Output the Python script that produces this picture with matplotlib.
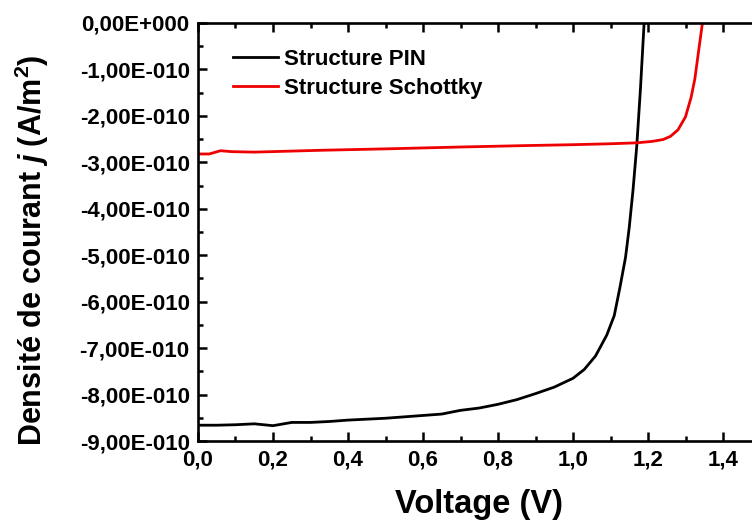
import numpy as np
import matplotlib.pyplot as plt
from matplotlib.ticker import FuncFormatter, MultipleLocator

plt.rcParams['font.family'] = ['Liberation Sans', 'DejaVu Sans']
plt.rcParams['font.weight'] = 'bold'
plt.rcParams['mathtext.fontset'] = 'custom'
plt.rcParams['mathtext.it'] = 'Liberation Sans:italic:bold'
plt.rcParams['mathtext.bf'] = 'Liberation Sans:bold'
plt.rcParams['mathtext.rm'] = 'Liberation Sans:bold'

# PIN structure, current density in units of 1e-10 A/m^2
v_pin = [0, 0.05, 0.1, 0.15, 0.2, 0.25, 0.3, 0.35, 0.4, 0.5, 0.6, 0.65, 0.7,
         0.75, 0.8, 0.85, 0.9, 0.95, 1.0, 1.03, 1.06, 1.09, 1.11, 1.125, 1.14,
         1.15, 1.16, 1.17, 1.18, 1.19]
j_pin = [-8.66, -8.66, -8.65, -8.63, -8.67, -8.60, -8.60, -8.58, -8.55, -8.51,
         -8.45, -8.42, -8.34, -8.29, -8.21, -8.11, -7.98, -7.84, -7.65, -7.46,
         -7.17, -6.72, -6.30, -5.70, -5.05, -4.40, -3.60, -2.65, -1.40, 0.05]

# Schottky structure
v_sch = [0, 0.03, 0.06, 0.09, 0.15, 0.33, 0.5, 0.7, 0.87, 1.0, 1.1, 1.17,
         1.21, 1.24, 1.26, 1.28, 1.3, 1.315, 1.325, 1.335, 1.346]
j_sch = [-2.82, -2.82, -2.75, -2.77, -2.78, -2.74, -2.71, -2.67, -2.64, -2.62,
         -2.60, -2.58, -2.55, -2.51, -2.44, -2.30, -2.02, -1.60, -1.20, -0.60,
         0.05]

scale = 1e-10

fig = plt.figure(figsize=(7.52, 5.23), dpi=100)
ax = fig.add_axes([198 / 752, 82 / 523, 562.5 / 752, 418 / 523])

ax.plot(v_pin, np.array(j_pin) * scale, color='black', lw=2.0, label='Structure PIN')
ax.plot(v_sch, np.array(j_sch) * scale, color='#ee0000', lw=2.0, label='Structure Schottky')

ax.set_xlim(0, 1.5)
ax.set_ylim(-9e-10, 0)
ax.xaxis.set_major_locator(MultipleLocator(0.2))
ax.xaxis.set_minor_locator(MultipleLocator(0.1))
ax.yaxis.set_major_locator(MultipleLocator(1e-10))
ax.yaxis.set_minor_locator(MultipleLocator(0.5e-10))


def yfmt(val, pos):
    m = round(val / scale)
    if m == 0:
        return '0,00E+000'
    return '%d,00E-010' % m


ax.yaxis.set_major_formatter(FuncFormatter(yfmt))
ax.xaxis.set_major_formatter(FuncFormatter(lambda v, p: ('%.1f' % v).replace('.', ',')))

ax.tick_params(which='both', direction='in', top=True, right=True, width=1.8,
               labelsize=16, pad=6)
ax.tick_params(which='major', length=6.5)
ax.tick_params(which='minor', length=3.5)
for s in ax.spines.values():
    s.set_linewidth(1.9)

ax.set_xlabel('Voltage (V)', fontsize=23.5, fontweight='bold')
ax.set_ylabel(r'Densité de courant $\mathit{j}$ (A/m$^{\mathbf{2}}$)', fontsize=22,
              fontweight='bold')
ax.xaxis.set_label_coords(0.5, -0.115)
ax.yaxis.set_label_coords(-0.262, 0.457)

ax.legend(loc='upper left', bbox_to_anchor=(0.035, 0.975), frameon=False,
          fontsize=16, handlelength=2.0, handletextpad=0.3, labelspacing=0.35,
          borderaxespad=0.3)

fig.savefig('out.png', dpi=100)
